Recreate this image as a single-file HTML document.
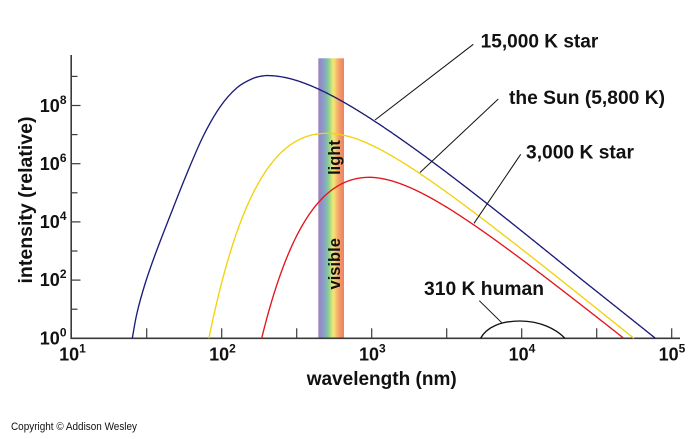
<!DOCTYPE html>
<html><head><meta charset="utf-8"><style>
html,body{margin:0;padding:0;background:#fff;width:699px;height:439px;overflow:hidden}
svg{display:block}
text{font-family:"Liberation Sans",Arial,Helvetica,sans-serif;fill:#111}
.b{font-weight:bold}
</style></head><body>
<svg width="699" height="439" viewBox="0 0 699 439" xmlns="http://www.w3.org/2000/svg">
<defs>
<linearGradient id="vis" x1="0" x2="1" y1="0" y2="0">
<stop offset="0" stop-color="#9c84c0"/>
<stop offset="0.12" stop-color="#9090c8"/>
<stop offset="0.25" stop-color="#86a8c0"/>
<stop offset="0.36" stop-color="#84c4a0"/>
<stop offset="0.46" stop-color="#a8d884"/>
<stop offset="0.55" stop-color="#e2ea78"/>
<stop offset="0.63" stop-color="#f6dc72"/>
<stop offset="0.73" stop-color="#f6b46e"/>
<stop offset="0.86" stop-color="#f29468"/>
<stop offset="1" stop-color="#ee8264"/>
</linearGradient>
</defs>

<!-- visible band -->
<rect x="318.3" y="58.3" width="25.7" height="280" fill="url(#vis)"/>

<!-- axes -->
<g stroke="#3a3a3a" stroke-width="1.6" fill="none">
<line x1="71.2" y1="55" x2="71.2" y2="338.3"/>
<line x1="70.4" y1="338.3" x2="680" y2="338.3"/>
</g>
<g stroke="#3a3a3a" stroke-width="1.2">
<line x1="71.2" y1="280.1" x2="80.5" y2="280.1"/>
<line x1="71.2" y1="221.9" x2="80.5" y2="221.9"/>
<line x1="71.2" y1="163.7" x2="80.5" y2="163.7"/>
<line x1="71.2" y1="105.5" x2="80.5" y2="105.5"/>
<line x1="71.2" y1="309.2" x2="77.5" y2="309.2"/>
<line x1="71.2" y1="251.0" x2="77.5" y2="251.0"/>
<line x1="71.2" y1="192.8" x2="77.5" y2="192.8"/>
<line x1="71.2" y1="134.6" x2="77.5" y2="134.6"/>
<line x1="71.2" y1="76.4" x2="77.5" y2="76.4"/>
<line x1="146.7" y1="328.3" x2="146.7" y2="338.3"/>
<line x1="221.7" y1="328.3" x2="221.7" y2="338.3"/>
<line x1="296.7" y1="328.3" x2="296.7" y2="338.3"/>
<line x1="371.7" y1="328.3" x2="371.7" y2="338.3"/>
<line x1="446.7" y1="328.3" x2="446.7" y2="338.3"/>
<line x1="521.7" y1="328.3" x2="521.7" y2="338.3"/>
<line x1="596.7" y1="328.3" x2="596.7" y2="338.3"/>
<line x1="671.7" y1="328.3" x2="671.7" y2="338.3"/>
</g>

<!-- curves -->
<g fill="none" stroke-width="1.35" stroke-linejoin="round">
<path id="cBlue" stroke="#1c1c78" d="M132.3,338.3 L137,313 L145,284 L155,255 L170,216 L186.7,174 L203.3,136 L220,107 L236.7,88 L253.3,78.3 L263.3,75.7 L286.7,78.3 L320,90 L353.3,106.7 L380,123.3 L460,182 L560,263 L655,338.3"/>
<path id="cYel" stroke="#f2d20c" d="M206.7,338.3 L220,290 L236.7,232 L253.3,191 L270,164 L293.3,143.3 L320,134.5 L330,133.5 L360,138.3 L420,171.7 L560,279.7 L634,338.3"/>
<path id="cRed" stroke="#e3161b" d="M263,338.3 L276.7,293.3 L293.3,245 L313.3,211 L333.3,191 L353.3,181 L370,178.3 L400,185 L475,223.3 L560,288.3 L623.5,338.3"/>
<path stroke="#111" d="M480.5,338.3 C487,327 501,321 520,321 C540,321 556,329 565,338.3"/>
</g>

<!-- callout lines -->
<g stroke="#111" stroke-width="1">
<line x1="473.3" y1="44.3" x2="375" y2="120"/>
<line x1="498.3" y1="99" x2="420" y2="172.5"/>
<line x1="520.7" y1="154.3" x2="474" y2="223.3"/>
<line x1="479.3" y1="300.7" x2="501.7" y2="322.7"/>
</g>

<!-- band text -->
<text class="b" font-size="16.5" text-anchor="middle" transform="translate(340,157.5) rotate(-90)" fill="#1a1a1a">light</text>
<text class="b" font-size="16.5" text-anchor="middle" transform="translate(340,263.8) rotate(-90)" fill="#1a1a1a">visible</text>

<!-- callout labels -->
<text class="b" font-size="19" x="480.7" y="47.7" textLength="117.6" lengthAdjust="spacingAndGlyphs">15,000 K star</text>
<text class="b" font-size="19" x="509" y="104" textLength="156" lengthAdjust="spacingAndGlyphs">the Sun (5,800 K)</text>
<text class="b" font-size="19" x="526" y="158.3" textLength="108" lengthAdjust="spacingAndGlyphs">3,000 K star</text>
<text class="b" font-size="19" x="424" y="295" textLength="120" lengthAdjust="spacingAndGlyphs">310 K human</text>

<!-- y tick labels -->
<g class="b" font-size="18" text-anchor="end">
<text x="66.5" y="112">10<tspan font-size="12" dy="-8">8</tspan></text>
<text x="66.5" y="170">10<tspan font-size="12" dy="-8">6</tspan></text>
<text x="66.5" y="228">10<tspan font-size="12" dy="-8">4</tspan></text>
<text x="66.5" y="286">10<tspan font-size="12" dy="-8">2</tspan></text>
<text x="66.5" y="344.3">10<tspan font-size="12" dy="-8">0</tspan></text>
</g>
<!-- x tick labels -->
<g class="b" font-size="18" text-anchor="middle">
<text x="72.5" y="360.7">10<tspan font-size="12" dy="-8">1</tspan></text>
<text x="222.5" y="360.7">10<tspan font-size="12" dy="-8">2</tspan></text>
<text x="372.3" y="360.7">10<tspan font-size="12" dy="-8">3</tspan></text>
<text x="522" y="360.7">10<tspan font-size="12" dy="-8">4</tspan></text>
<text x="672" y="360.7">10<tspan font-size="12" dy="-8">5</tspan></text>
</g>

<!-- axis titles -->
<text class="b" font-size="19" x="306.7" y="385" textLength="150" lengthAdjust="spacingAndGlyphs">wavelength (nm)</text>
<text class="b" font-size="19" text-anchor="middle" transform="translate(32,200) rotate(-90)" textLength="167" lengthAdjust="spacingAndGlyphs">intensity (relative)</text>

<!-- copyright -->
<text font-size="11" x="11" y="430" textLength="126" lengthAdjust="spacingAndGlyphs" fill="#222">Copyright © Addison Wesley</text>
</svg>
<script>
(function(){
function X(d){return 71.7+(d-1)*150;}
function Y(l){return 338.3-29.1*l;}
function P(d,T){var u=1.4388e7/(Math.pow(10,d)*T);return -5*d-Math.log10(Math.expm1(u))+22.61;}
function build(f,d0,d1,step){
  var pts=[],prev=null;
  for(var d=d0;d<=d1+1e-9;d+=step){
    var l=f(d);
    if(prev){
      if(prev.l<0&&l>=0){var t=(0-prev.l)/(l-prev.l);pts.push([X(prev.d+t*step),Y(0)]);}
      if(prev.l>=0&&l<0){var t2=(0-prev.l)/(l-prev.l);pts.push([X(prev.d+t2*step),Y(0)]);break;}
      if(l>=0)pts.push([X(d),Y(l)]);
    } else if(l>=0){pts.push([X(d),Y(l)]);}
    prev={d:d,l:l};
  }
  return pts;
}
function fmt(p){return p[0].toFixed(2)+','+p[1].toFixed(2);}
function poly(pts){return 'M'+pts.map(fmt).join('L');}
try{
  // blue
  var fb=function(d){var c=0;if(d>2.29&&d<4.4)c=0.14*Math.sin(Math.PI*(d-2.29)/2.11);else if(d>=4.4)c=-0.06*(d-4.4)/0.5;return P(d,15000)+c;};
  var tail=build(fb,2.29,5.3,0.005);
  var tr=[[132.3,338.3],[137,313],[145,284],[155,255],[170,216],[186.7,174],[203.3,136],[220,107],[236.7,88],[253.3,78.3]];
  tr.push(tail[0]);
  var s='M'+fmt(tr[0]);
  for(var i=0;i<tr.length-1;i++){
    var p0=tr[i-1]||tr[i],p1=tr[i],p2=tr[i+1],p3=tr[i+2]||tail[1]||p2;
    var c1=[p1[0]+(p2[0]-p0[0])/6,p1[1]+(p2[1]-p0[1])/6];
    var c2=[p2[0]-(p3[0]-p1[0])/6,p2[1]-(p3[1]-p1[1])/6];
    s+='C'+fmt(c1)+' '+fmt(c2)+' '+fmt(p2);
  }
  for(var j=1;j<tail.length;j++)s+='L'+fmt(tail[j]);
  document.getElementById('cBlue').setAttribute('d',s);
  // yellow
  var fy=function(d){return P(d,5800)+0.08-(d>2.9?0.16*(d-2.9):0);};
  document.getElementById('cYel').setAttribute('d',poly(build(fy,1.5,5.3,0.004)));
  // red
  var fr=function(d){return P(d,3000)-(d>3.0?0.11*(d-3.0):0);};
  document.getElementById('cRed').setAttribute('d',poly(build(fr,1.8,5.3,0.004)));
}catch(e){}
})();
</script>
</body></html>
